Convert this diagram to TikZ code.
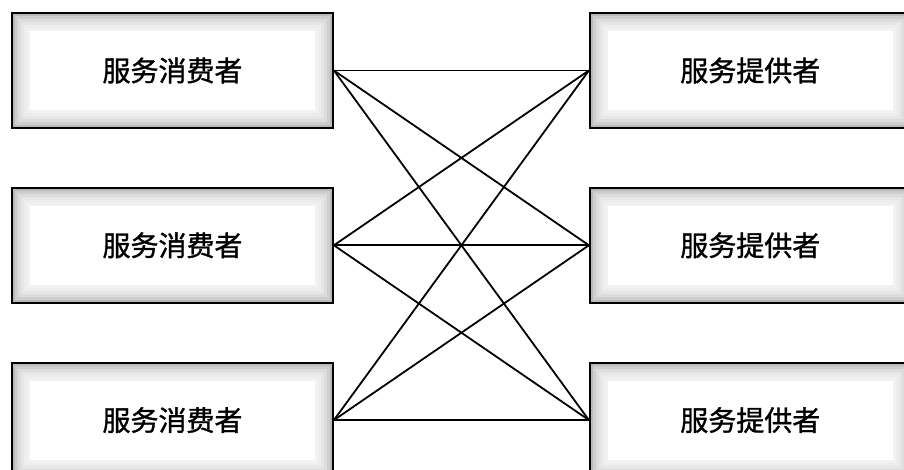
\documentclass[tikz,border=0pt]{standalone}
\usepackage{fontspec}
\newfontfamily\cjk[FakeBold=1.2]{Noto Sans CJK SC}
\usetikzlibrary{positioning}

\begin{document}
\begin{tikzpicture}[
    x=1pt, y=1pt,
    party/.style={draw, line width=1.8pt, minimum width=321pt, minimum height=115pt, inner sep=0pt,
        font=\cjk\fontsize{28}{32}\selectfont,
        path picture={
            \fill[gray!55] (path picture bounding box.south west) rectangle (path picture bounding box.north east);
            \foreach \d in {3,6,...,15}
                \fill[white, opacity=0.3] ([shift={(\d pt,\d pt)}]path picture bounding box.south west) rectangle ([shift={(-\d pt,-\d pt)}]path picture bounding box.north east);
            \fill[white] ([shift={(18pt,18pt)}]path picture bounding box.south west) rectangle ([shift={(-18pt,-18pt)}]path picture bounding box.north east);
        }},
    link/.style={line width=1.8pt}
]
    \useasboundingbox (0,0) rectangle (904,-470);

    \node (cons1) [party] at (172.5,-70.5) {服务消费者};
    \node (cons2) [party, below=58pt of cons1] {服务消费者};
    \node (cons3) [party, below=58pt of cons2] {服务消费者};

    \node (prov1) [party, right=255pt of cons1] {服务提供者};
    \node (prov2) [party, right=255pt of cons2] {服务提供者};
    \node (prov3) [party, right=255pt of cons3] {服务提供者};

    \draw [link] (cons1.east) -- (prov1.west);
    \draw [link] (cons1.east) -- (prov2.west);
    \draw [link] (cons1.east) -- (prov3.west);
    \draw [link] (cons2.east) -- (prov1.west);
    \draw [link] (cons2.east) -- (prov2.west);
    \draw [link] (cons2.east) -- (prov3.west);
    \draw [link] (cons3.east) -- (prov1.west);
    \draw [link] (cons3.east) -- (prov2.west);
    \draw [link] (cons3.east) -- (prov3.west);
\end{tikzpicture}
\end{document}
